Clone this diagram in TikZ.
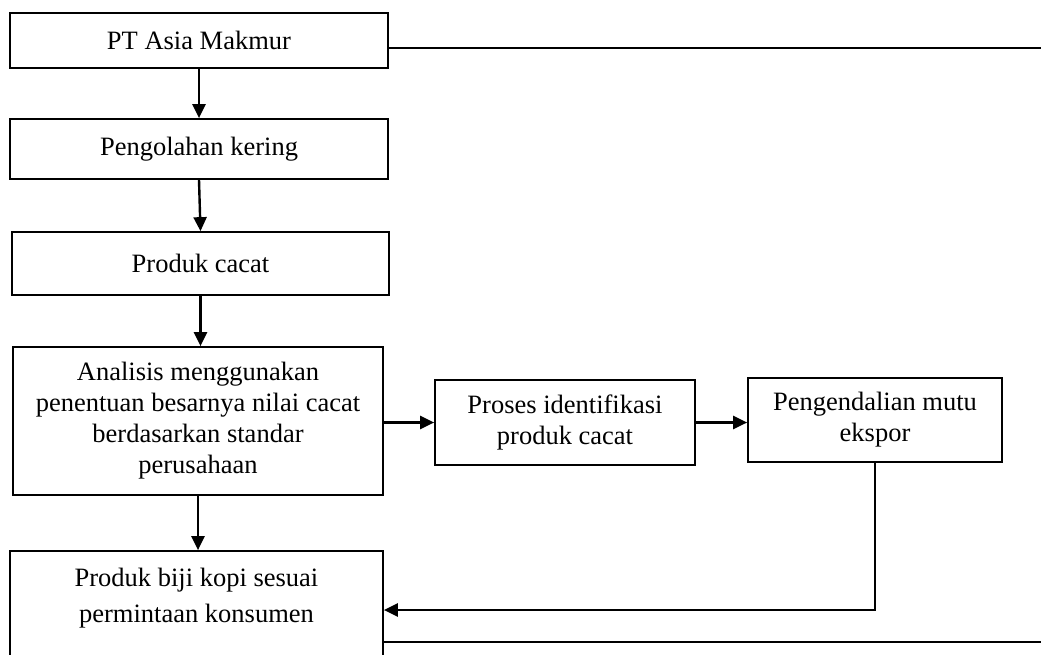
\documentclass[tikz,border=0pt]{standalone}
\usepackage{fontspec}
\setmainfont{Liberation Serif}
\usetikzlibrary{arrows.meta}
\tikzset{
  box/.style={draw=black, line width=1.7pt, rectangle, inner sep=0pt, align=center,
    font=\fontsize{26.5}{31}\selectfont},
  txt/.style={inner sep=0pt, align=center, font=\fontsize{26.5}{31}\selectfont},
  arr/.style={line width=2.4pt, -{Triangle[length=14pt,width=13pt]}},
  ln/.style={line width=1.7pt}
}
\begin{document}
\begin{tikzpicture}[x=1pt,y=-1pt]
\useasboundingbox (0,0) rectangle (1041,655);
\clip (0,0) rectangle (1041,655);
\node[box, minimum width=378pt, minimum height=55pt] (b1) at (199,40.5) {PT Asia Makmur};
\node[box, minimum width=378pt, minimum height=60pt] (b2) at (199,149) {Pengolahan kering};
\node[box, minimum width=377pt, minimum height=63pt] (b3) at (200.5,263.5) {Produk cacat};
\node[box, minimum width=370pt, minimum height=148pt] (b4) at (198,421) {Analisis menggunakan\\penentuan besarnya nilai cacat\\berdasarkan standar\\perusahaan};
\node[box, minimum width=373pt, minimum height=150pt] (b5) at (196.5,626) {};
\node[txt] (b5t) at (196.5,598) {Produk biji kopi sesuai\\[5.5pt]permintaan konsumen};
\node[box, minimum width=260pt, minimum height=85pt] (b6) at (565,422.5) {Proses identifikasi\\produk cacat};
\node[box, minimum width=254pt, minimum height=84pt] (b7) at (875,420) {Pengendalian mutu\\ekspor};
\coordinate (te) at (1041,48);
\coordinate (be) at (1041,642);
\coordinate (fb) at (875,610);
\draw[ln] (b1.east |- te) -- (te);
\draw[ln] (b5.east |- be) -- (be);
\draw[arr] (b1.south) -- (b2.north);
\draw[arr] (b2.south) -- (b3.north);
\draw[arr] (b3.south) -- (b3.south |- b4.north);
\draw[arr] (b4.south) -- (b4.south |- b5.north);
\draw[arr] (b4.east |- b6.west) -- (b6.west);
\draw[arr] (b6.east) -- (b7.west |- b6.east);
\draw[arr] (b7.south) |- (b5.east |- fb);
\end{tikzpicture}
\end{document}
